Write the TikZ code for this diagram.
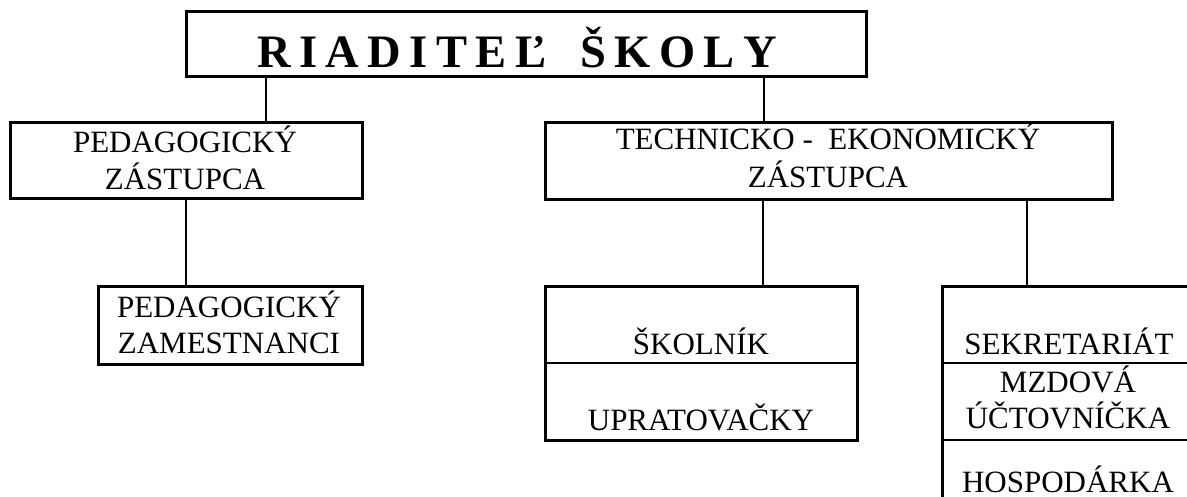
\documentclass[tikz,border=0pt]{standalone}
\usepackage{fontspec}
\setmainfont{Liberation Serif}
\newcommand{\lsp}{\hskip 0pt plus 1fil\relax}
\newcommand{\wsp}{\hskip 0pt plus 4fil\relax}
\begin{document}
\begin{tikzpicture}[x=1pt,y=-1pt,
  box/.style={draw, line width=3pt, inner sep=0pt, outer sep=0pt, anchor=north west},
  conn/.style={line width=2pt},
  divider/.style={line width=2.6pt},
  lbl/.style={inner sep=0pt, outer sep=0pt, anchor=base, font=\fontsize{31}{37}\selectfont},
  ttl/.style={inner sep=0pt, outer sep=0pt, anchor=base west, font=\fontsize{46.5}{50}\selectfont\bfseries}]
\clip (0,0) rectangle (1187,497);
\fill[white] (0,0) rectangle (1187,497);
% boxes
\node[box, minimum width=680pt, minimum height=65pt] (dir) at (186,12) {};
\node[box, minimum width=352pt, minimum height=76pt] (pz) at (10,123) {};
\node[box, minimum width=567pt, minimum height=77pt] (te) at (545,123) {};
\node[box, minimum width=264pt, minimum height=77pt] (pzam) at (98,287) {};
\node[box, minimum width=312pt, minimum height=153pt] (tech) at (545,287) {};
\node[box, minimum width=260pt, minimum height=260pt] (adm) at (942,287) {};
% texts
\node[ttl] (ttltext) at (257,68) {\makebox[520pt][s]{R\lsp I\lsp A\lsp D\lsp I\lsp T\lsp E\lsp Ľ\wsp Š\lsp K\lsp O\lsp L\lsp Y}};
\node[lbl] (pz1) at (185,153) {PEDAGOGICKÝ};
\node[lbl] (pz2) at (185,190) {ZÁSTUPCA};
\node[lbl] (pzam1) at (229,318) {PEDAGOGICKÝ};
\node[lbl] (pzam2) at (229,353) {ZAMESTNANCI};
\node[lbl] (te1) at (828,150) {TECHNICKO -\ \ EKONOMICKÝ};
\node[lbl] (te2) at (828,188) {ZÁSTUPCA};
\node[lbl] (sk) at (701,354) {ŠKOLNÍK};
\node[lbl] (up) at (701,430) {UPRATOVAČKY};
\node[lbl] (sek) at (1069,354) {SEKRETARIÁT};
\node[lbl] (mz1) at (1068,392) {MZDOVÁ};
\node[lbl] (mz2) at (1068,428) {ÚČTOVNÍČKA};
\node[lbl, text depth=0pt] (hos) at (1068,492) {HOSPODÁRKA};
% dividers
\coordinate (d1) at (0,363);
\coordinate (d2) at (0,440);
\draw[divider] (tech.west |- d1) -- (tech.east |- d1);
\draw[divider] (adm.west |- d1) -- (adm.east |- d1);
\draw[divider] (adm.west |- d2) -- (adm.east |- d2);
% connectors
\coordinate (x1) at (266,0);
\coordinate (x2) at (764,0);
\coordinate (x3) at (186,0);
\coordinate (x4) at (763,0);
\coordinate (x5) at (1027,0);
\draw[conn] (dir.south -| x1) -- (pz.north -| x1);
\draw[conn] (dir.south -| x2) -- (te.north -| x2);
\draw[conn] (pz.south -| x3) -- (pzam.north -| x3);
\draw[conn] (te.south -| x4) -- (tech.north -| x4);
\draw[conn] (te.south -| x5) -- (adm.north -| x5);
\end{tikzpicture}
\end{document}
